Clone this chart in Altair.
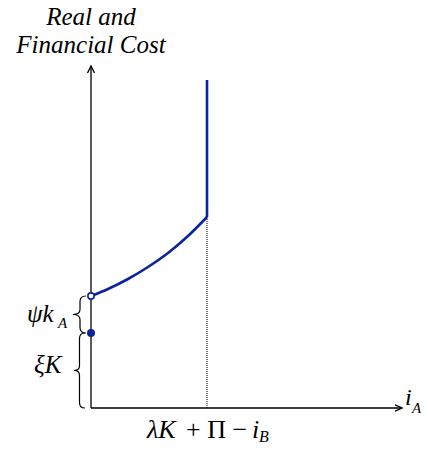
import altair as alt
import pandas as pd

# ---- values (axis units: x 0..311, y 0..342) ----
X_MAX = 311
Y_MAX = 342
kink_x = 116          # λK + Π − i_B
dot_y = 75            # ζK
open_y = 112          # ζK + ψk_A
kink_y = 191
top_y = 328

curve_x = [0, 17, 37, 57, 77, 97, 116]
curve_y = [112, 119, 129, 141, 155, 172, 191]

BLUE = "#0c23a0"
FONT = "'Liberation Serif', 'Times New Roman', serif"
PLOT_W, PLOT_H = 311, 342
PX_Y = PLOT_H / Y_MAX

xs = alt.Scale(domain=[0, X_MAX], nice=False, zero=False)
ys = alt.Scale(domain=[0, Y_MAX], nice=False, zero=False)


def X(f):
    return alt.X(f, type="quantitative", scale=xs, axis=None)


def Y(f):
    return alt.Y(f, type="quantitative", scale=ys, axis=None)


# axes
axes_df = pd.DataFrame({"x": [0, 0], "x2": [0, X_MAX], "y": [0, 0], "y2": [Y_MAX, 0]})
axes = alt.Chart(axes_df).mark_rule(color="black", strokeWidth=1.3).encode(
    x=X("x"), x2="x2", y=Y("y"), y2="y2")

up_arrow = alt.Chart(pd.DataFrame({"x": [0], "y": [Y_MAX]})).mark_point(
    shape="M-0.5,1 L0,0 L0.5,1", size=196, filled=False, color="black",
    strokeWidth=1.3, opacity=1).encode(x=X("x"), y=Y("y"))
right_arrow = alt.Chart(pd.DataFrame({"x": [X_MAX], "y": [0]})).mark_point(
    shape="M-1,-0.45 L0,0 L-1,0.45", size=196, filled=False, color="black",
    strokeWidth=1.3, opacity=1).encode(x=X("x"), y=Y("y"))

# dotted guide
dotted = alt.Chart(pd.DataFrame({"x": [kink_x], "y": [0], "y2": [kink_y]})).mark_rule(
    color="black", strokeWidth=1, strokeDash=[1, 1]).encode(x=X("x"), y=Y("y"), y2="y2")

# cost curve
curve = alt.Chart(pd.DataFrame({"x": curve_x, "y": curve_y})).mark_line(
    color=BLUE, strokeWidth=2.6, interpolate="monotone").encode(x=X("x"), y=Y("y"))
vertical = alt.Chart(pd.DataFrame({"x": [kink_x], "y": [kink_y], "y2": [top_y]})).mark_rule(
    color=BLUE, strokeWidth=2.6).encode(x=X("x"), y=Y("y"), y2="y2")

filled_dot = alt.Chart(pd.DataFrame({"x": [0], "y": [dot_y]})).mark_circle(
    color=BLUE, size=64, opacity=1).encode(x=X("x"), y=Y("y"))
open_dot = alt.Chart(pd.DataFrame({"x": [0], "y": [open_y]})).mark_point(
    shape="circle", size=40, filled=True, fill="white", stroke=BLUE, strokeWidth=1.6,
    opacity=1).encode(x=X("x"), y=Y("y"))

# braces
lo_span = dot_y * PX_Y
hi_span = (open_y - dot_y) * PX_Y
brace_lo = alt.Chart(pd.DataFrame({"x": [-11.5], "y": [dot_y / 2]})).mark_point(
    shape="M0.147,-1 Q0,-1 0,-0.85 L0,-0.13 Q0,0 -0.147,0 Q0,0 0,0.13 L0,0.85 Q0,1 0.147,1",
    size=lo_span ** 2, filled=False, color="black", strokeWidth=1.2, opacity=1
).encode(x=X("x"), y=Y("y"))
brace_hi = alt.Chart(pd.DataFrame({"x": [-11], "y": [(dot_y + open_y) / 2]})).mark_point(
    shape="M0.32,-1 Q0,-1 0,-0.7 L0,-0.27 Q0,0 -0.38,0 Q0,0 0,0.27 L0,0.7 Q0,1 0.32,1",
    size=hi_span ** 2, filled=False, color="black", strokeWidth=1.2, opacity=1
).encode(x=X("x"), y=Y("y"))


def label(df, size=24, style="italic", align="left"):
    return alt.Chart(pd.DataFrame(df)).mark_text(
        font=FONT, fontSize=size, fontStyle=style, align=align, baseline="alphabetic",
        color="black").encode(x=X("x"), y=Y("y"), text="t:N")


title = label({"t": ["Real and", "Financial Cost"], "x": [0, 0], "y": [383, 355]},
              size=25, align="center")
psi = label({"t": ["ψk"], "x": [-64], "y": [86]}, size=25)
psi_sub = label({"t": ["A"], "x": [-33], "y": [80]}, size=15)
xi = label({"t": ["ξK"], "x": [-57], "y": [35]}, size=25)
lam = label({"t": ["λK"], "x": [56], "y": [-30]}, size=26)
ops = label({"t": ["+ Π −"], "x": [95], "y": [-30]}, size=26, style="normal")
ib = label({"t": ["i"], "x": [161], "y": [-30]}, size=26)
ib_sub = label({"t": ["B"], "x": [168], "y": [-34]}, size=16)
ia = label({"t": ["i"], "x": [314], "y": [3]})
ia_sub = label({"t": ["A"], "x": [321], "y": [-5]}, size=15)

chart = alt.layer(
    dotted, axes, up_arrow, right_arrow, curve, vertical, brace_lo, brace_hi,
    filled_dot, open_dot, title, psi, psi_sub, xi, lam, ops, ib, ib_sub, ia, ia_sub
).properties(
    width=PLOT_W, height=PLOT_H,
    autosize=alt.AutoSizeParams(type="none"),
    padding={"left": 83, "top": 58, "right": 19, "bottom": 36},
    background="white",
).configure_view(stroke=None)

chart.save("out.html", embed_options={"renderer": "svg", "actions": False})
